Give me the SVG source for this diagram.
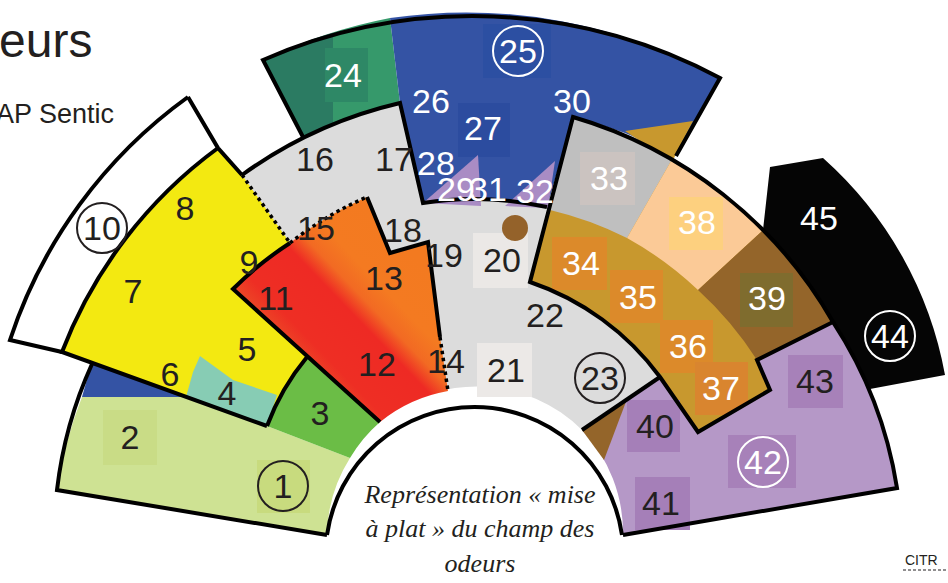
<svg xmlns="http://www.w3.org/2000/svg" width="948" height="583" viewBox="0 0 948 583">
<style>
.n{font-family:"Liberation Sans",Arial,sans-serif;font-size:34px;text-anchor:middle}
.d{fill:#231f20}.w{fill:#fff}
.o{fill:none;stroke:#000;stroke-width:4;stroke-linejoin:miter;stroke-linecap:butt}
.dot{fill:none;stroke:#000;stroke-width:3.5;stroke-dasharray:3.5 3.5}
.cb{fill:none;stroke:#231f20;stroke-width:2}
.cw{fill:none;stroke:#fff;stroke-width:2}
.cap{font-family:"Liberation Serif","Times New Roman",serif;font-style:italic;font-size:26px;fill:#231f20;text-anchor:middle}
</style>
<defs>
<linearGradient id="redg" gradientUnits="userSpaceOnUse" x1="300" y1="356" x2="410" y2="250">
<stop offset="0" stop-color="#ec4526"/><stop offset="0.12" stop-color="#ee2e24"/><stop offset="0.44" stop-color="#ee2a24"/><stop offset="0.56" stop-color="#f26a23"/><stop offset="0.7" stop-color="#f47a21"/><stop offset="1" stop-color="#f37a20"/>
</linearGradient>
<linearGradient id="g24" gradientUnits="userSpaceOnUse" x1="263" y1="0" x2="400" y2="0">
<stop offset="0.51" stop-color="#2b7b62"/><stop offset="0.51" stop-color="#36996b"/>
</linearGradient>
<clipPath id="band"><path d="M573,117 A442,442 0 0,1 833,322 L757,360 L770,390 L698,432 L660,377 A268,268 0 0,0 530,282 Z"/></clipPath>
</defs>
<rect width="948" height="583" fill="#fff"/>
<text x="-1" y="57" style="font-family:'Liberation Sans',Arial,sans-serif;font-size:48px;fill:#231f20">eurs</text>
<text x="-4" y="123" style="font-family:'Liberation Sans',Arial,sans-serif;font-size:27px;fill:#231f20">AP Sentic</text>

<g id="region-gray">
<path d="M242,175 A440,440 0 0,1 400,103 L423,203 A339,339 0 0,1 547,207 L530,282 A268,268 0 0,1 660,377 L582,430 A149,149 0 0,0 380,422 L233,289 Z" fill="#dcdcdc"/>
<rect x="473" y="233" width="55" height="55" fill="#ebe8e6"/>
<rect x="477" y="343" width="55" height="54" fill="#ece9e7"/>
<circle cx="515" cy="228" r="13" fill="#94622a"/>
</g>
<g id="region-10">
<path d="M188,97 L218,148 A455,455 0 0,0 62,352 L10,340 A487,487 0 0,1 188,97 Z" fill="#fff"/>
</g>
<g id="region-24">
<path d="M263,60 A524,524 0 0,1 390,18 L400,103 A440,440 0 0,0 303,137 Z" fill="url(#g24)"/>
<rect x="325" y="48" width="43" height="54" fill="#2e8866"/>
</g>
<g id="region-25">
<path d="M390,18 A524,524 0 0,1 720,78 L676,156 A442,442 0 0,0 573,117 L547,207 A339,339 0 0,0 423,203 L400,103 Z" fill="#3453a4"/>
<path d="M625,131 L693,121 L672,162 Z" fill="#c8982e"/>
<rect x="483" y="24" width="68" height="54" fill="#2c4fa2"/>
<rect x="458" y="103" width="52" height="54" fill="#2c4c9f"/>
<path d="M423,203 L478,155 L481,206 Z" fill="#a98cc4"/>
<path d="M505,206 L555,161 L548,208 Z" fill="#a98cc4"/>
</g>
<g id="region-33-39">
<g clip-path="url(#band)">
<path d="M573,117 A442,442 0 0,1 833,322 L757,360 L770,390 L698,432 L660,377 A268,268 0 0,0 530,282 Z" fill="#c8982e"/>
<path d="M520,90 L690,128 L627,238 A350,350 0 0,0 550,210 L520,205 Z" fill="#bfbfbf"/>
<path d="M690,128 L800,196 L698,290 A350,350 0 0,0 627,238 Z" fill="#fbca97"/>
<path d="M800,196 L880,300 L757,360 A350,350 0 0,0 698,290 Z" fill="#94652a"/>
</g>
<rect x="580" y="152" width="55" height="53" fill="#cbc3c0"/>
<rect x="669" y="197" width="54" height="53" fill="#fdd07f"/>
<rect x="552" y="237" width="55" height="53" fill="#dc8a2a"/>
<rect x="610" y="270" width="53" height="53" fill="#dc8a2a"/>
<rect x="660" y="320" width="53" height="53" fill="#dc8a2a"/>
<rect x="695" y="362" width="53" height="53" fill="#d9852f"/>
<rect x="740" y="273" width="53" height="54" fill="#7f6c2e"/>
</g>
<g id="region-40-43">
<path d="M757,360 L833,322 A422,422 0 0,1 897,488 L623,535 A149,149 0 0,0 582,430 L660,377 L698,432 L770,390 Z" fill="#b598c7"/>
<path d="M582,430 L627,399 L604,460 Z" fill="#94652a"/>
<rect x="627" y="400" width="53" height="52" fill="#a57fb8"/>
<rect x="635" y="477" width="55" height="53" fill="#a57fb8"/>
<rect x="728" y="435" width="68" height="53" fill="#a781b9"/>
<rect x="788" y="355" width="55" height="53" fill="#a781b9"/>
</g>
<g id="region-44-45">
<path d="M770,167 L823,158 A382,382 0 0,1 945,375 L870,389 A422,422 0 0,0 833,322 A442,442 0 0,0 763,230 Z" fill="#050505"/>
</g>
<g id="region-1-2">
<path d="M82,397 L183,397 L267,426 L350,458 A149,149 0 0,0 327,535 L57,490 A421,421 0 0,1 82,397 Z" fill="#cee293"/>
<path d="M92,364 L183,397 L82,397 A421,421 0 0,1 92,364 Z" fill="#3453a4"/>
<rect x="103" y="410" width="54" height="55" fill="#c9dc86"/>
<rect x="257" y="460" width="53" height="53" fill="#c8db7e"/>
</g>
<g id="region-4-9">
<path d="M218,148 L242,175 L290,243 A350,350 0 0,0 233,289 L307,355 A240,240 0 0,0 267,426 L62,352 A455,455 0 0,1 218,148 Z" fill="#f3e911"/>
<path d="M200,356 L233,380 L277,395 L267,426 L186,397 L193,372 Z" fill="#87ccb4"/>
</g>
<g id="region-3">
<path d="M307,357 L380,422 A149,149 0 0,0 350,458 L267,426 A240,240 0 0,1 307,357 Z" fill="#6bbd46"/>
</g>
<g id="region-11-15">
<path d="M233,289 A350,350 0 0,1 290,243 A350,350 0 0,1 367,197 L390,253 L428,242 L440,337 L448,391 A149,149 0 0,0 380,422 Z" fill="url(#redg)"/>
</g>
<g id="center">
<path d="M327,540 L327,535 A149,149 0 0,1 622,535 L622,540 Z" fill="#fff"/>
</g>

<g id="outlines">
<path class="o" d="M188,97 L218,148 L242,175"/>
<path class="o" d="M188,97 A487,487 0 0,0 10,340 L62,352"/>
<path class="o" d="M218,148 A455,455 0 0,0 62,352 L267,426"/>
<path class="dot" d="M242,175 L290,243"/>
<path class="o" d="M267,426 A240,240 0 0,1 307,357"/>
<path class="o" d="M92,364 A421,421 0 0,0 57,490 L327,535"/>
<path class="o" d="M380,422 L233,289 A350,350 0 0,1 290,243"/>
<path class="dot" d="M290,243 A350,350 0 0,1 367,197"/>
<path class="o" d="M367,197 L390,253 L428,242 L440,337"/>
<path class="dot" d="M440,337 L448,391"/>
<path class="o" d="M242,175 A440,440 0 0,1 400,103 L423,203 A339,339 0 0,1 547,207"/>
<path class="o" d="M303,137 L263,60 A524,524 0 0,1 720,78 L676,156"/>
<path class="o" d="M573,117 A442,442 0 0,1 833,322 L757,360 L770,390 L698,432 L660,377 A268,268 0 0,0 530,282 Z"/>
<path class="o" d="M660,377 L582,430"/>
<path class="o" d="M833,322 A422,422 0 0,1 897,488 L623,535"/>
<path class="o" d="M327,535 A149,149 0 0,1 622,535"/>
</g>
<g id="connectors"/>

<g id="labels">
<circle class="cb" cx="283" cy="486" r="25"/>
<circle class="cb" cx="102" cy="228" r="25"/>
<circle class="cb" cx="600" cy="378" r="25"/>
<circle class="cw" cx="518" cy="51" r="25"/>
<circle class="cw" cx="763" cy="462" r="25"/>
<circle class="cw" cx="890" cy="336" r="25"/>
<text class="n d" x="283" y="498">1</text>
<text class="n d" x="130" y="449">2</text>
<text class="n d" x="320" y="425">3</text>
<text class="n d" x="227" y="405">4</text>
<text class="n d" x="247" y="361">5</text>
<text class="n d" x="170" y="386">6</text>
<text class="n d" x="133" y="303">7</text>
<text class="n d" x="185" y="220">8</text>
<text class="n d" x="249" y="274">9</text>
<text class="n d" x="102" y="240">10</text>
<text class="n d" x="276" y="310">11</text>
<text class="n d" x="377" y="376">12</text>
<text class="n d" x="384" y="290">13</text>
<text class="n d" x="446" y="373">14</text>
<text class="n d" x="316" y="240">15</text>
<text class="n d" x="315" y="171">16</text>
<text class="n d" x="394" y="171">17</text>
<text class="n d" x="403" y="242">18</text>
<text class="n d" x="444" y="267">19</text>
<text class="n d" x="502" y="272">20</text>
<text class="n d" x="506" y="382">21</text>
<text class="n d" x="545" y="327">22</text>
<text class="n d" x="600" y="390">23</text>
<text class="n w" x="343" y="87">24</text>
<text class="n w" x="518" y="63">25</text>
<text class="n w" x="431" y="113">26</text>
<text class="n w" x="483" y="140">27</text>
<text class="n w" x="436" y="175">28</text>
<text class="n w" x="456" y="201">29</text>
<text class="n w" x="572" y="113">30</text>
<text class="n w" x="488" y="201">31</text>
<text class="n w" x="535" y="203">32</text>
<text class="n w" x="609" y="190">33</text>
<text class="n w" x="581" y="275">34</text>
<text class="n w" x="638" y="309">35</text>
<text class="n w" x="688" y="358">36</text>
<text class="n w" x="721" y="400">37</text>
<text class="n w" x="697" y="234">38</text>
<text class="n w" x="767" y="310">39</text>
<text class="n d" x="655" y="438">40</text>
<text class="n d" x="661" y="515">41</text>
<text class="n w" x="763" y="474">42</text>
<text class="n d" x="815" y="393">43</text>
<text class="n w" x="890" y="348">44</text>
<text class="n w" x="819" y="230">45</text>
</g>
<g id="caption">
<text class="cap" x="480" y="503">Représentation « mise</text>
<text class="cap" x="480" y="537">à plat » du champ des</text>
<text class="cap" x="480" y="572">odeurs</text>
</g>
<g id="citr">
<text x="905" y="565" style="font-family:'Liberation Sans',Arial,sans-serif;font-size:14px;fill:#231f20">CITR</text>
<line x1="903" y1="570" x2="948" y2="570" stroke="#231f20" stroke-width="1.2" stroke-dasharray="3 2"/>
</g>
</svg>
